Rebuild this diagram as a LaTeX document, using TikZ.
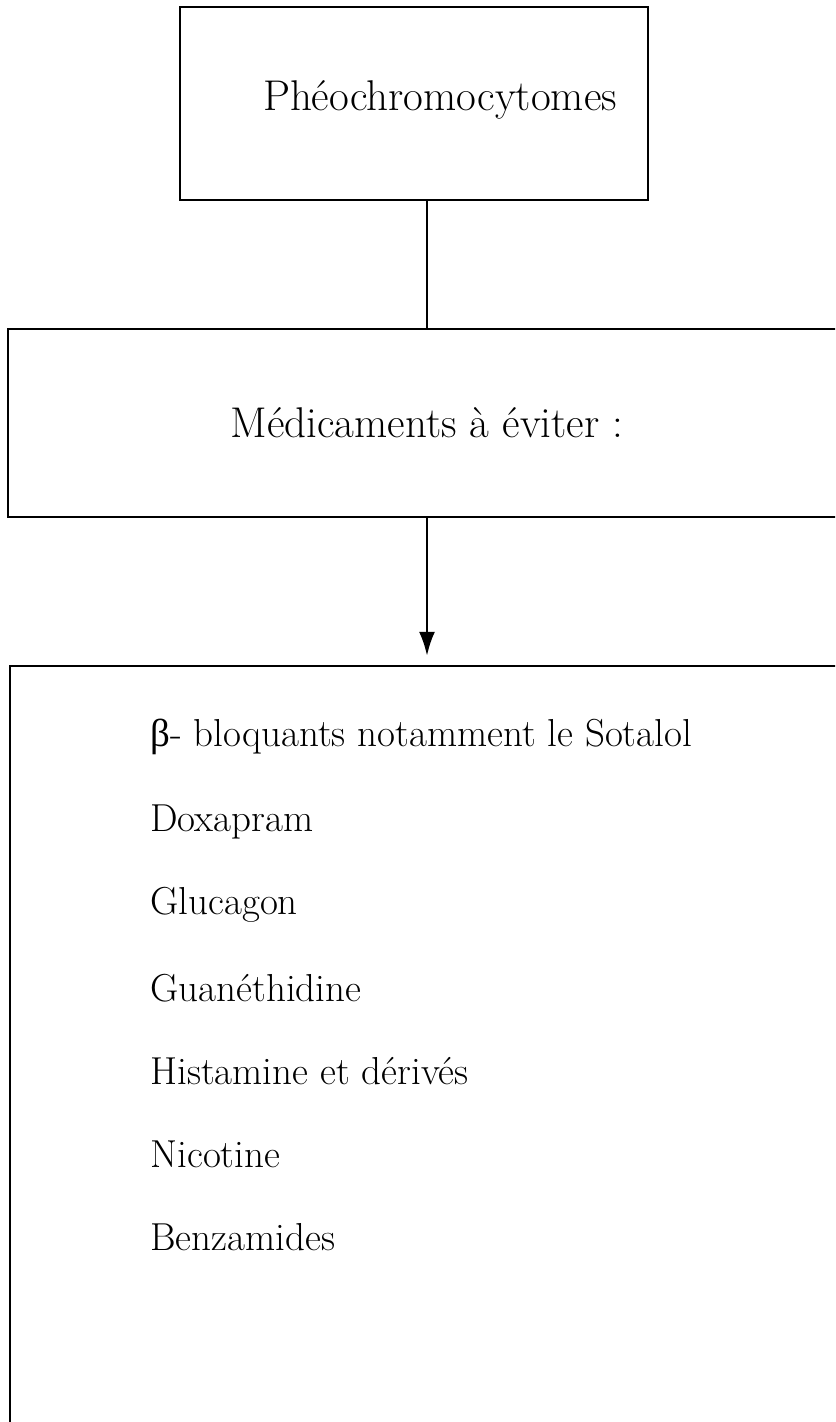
\documentclass[tikz,border=0pt]{standalone}
\usepackage{fontspec}
\newfontfamily\grkfont{Liberation Serif}
\usetikzlibrary{arrows.meta}
\tikzset{
  boite/.style={draw, line width=1.2pt, inner sep=0pt},
  titre/.style={font=\fontsize{21.5}{26}\selectfont, inner sep=0pt},
  item/.style={font=\fontsize{19.5}{23}\selectfont, inner sep=0pt, anchor=west},
}
\begin{document}
\begin{tikzpicture}[x=0.5pt,y=-0.5pt,>={Latex[length=12pt,width=8pt]}]
\useasboundingbox (0,0) rectangle (835,1422);
\clip (0,0) rectangle (835,1422);
\node[boite, minimum width=234pt, minimum height=96.5pt] (pheo) at (414,103.5) {};
\node[titre] (pheotxt) at (440,100) {Phéochromocytomes};
\node[boite, minimum width=419pt, minimum height=94pt] (med) at (427,423) {};
\node[titre] (medtxt) at (427,423) {Médicaments à éviter :};
\node[boite, minimum width=417pt, minimum height=387pt] (liste) at (427,1053) {};

\node[item] (beta) at (150,737) {{\grkfont β}- bloquants notamment le Sotalol};
\node[item] (doxa) at (150,822) {Doxapram};
\node[item] (gluc) at (150,905) {Glucagon};
\node[item] (guan) at (150,988) {Guanéthidine};
\node[item] (hist) at (150,1071) {Histamine et dérivés};
\node[item] (nico) at (150,1154) {Nicotine};
\node[item] (benz) at (150,1237) {Benzamides};

\draw[line width=1.2pt] (pheo.south -| med.north) -- (med.north);
\draw[->, line width=1.2pt, shorten >=4.5pt] (med) -- (liste);
\end{tikzpicture}
\end{document}
